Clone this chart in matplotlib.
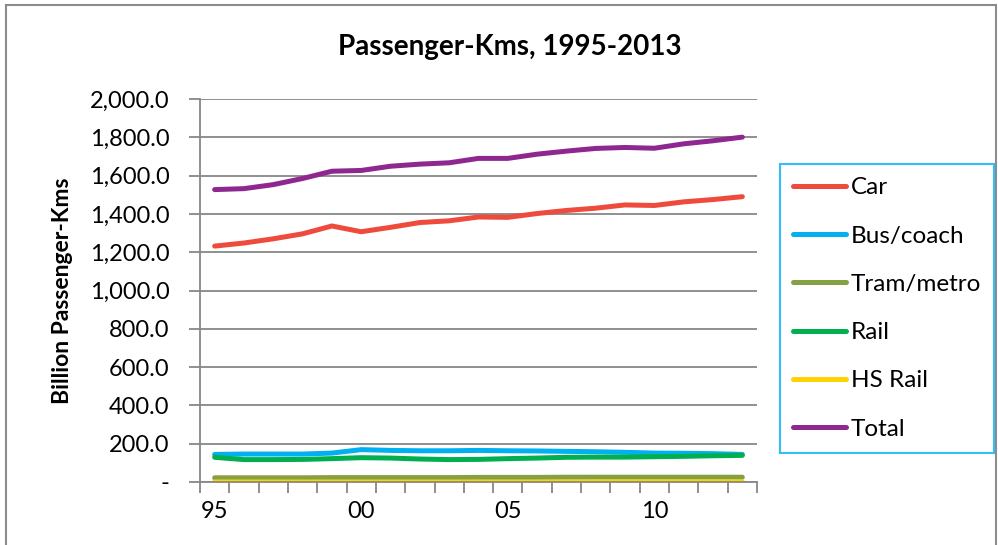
import numpy as np
import matplotlib.pyplot as plt
from matplotlib.ticker import FuncFormatter, FixedLocator
from matplotlib.patches import Rectangle

plt.rcParams['font.family'] = ['Lato', 'DejaVu Sans']

years = list(range(1995, 2014))
car = [1232, 1248, 1270, 1296, 1337, 1307, 1330, 1355, 1364, 1384,
       1382, 1402, 1418, 1430, 1447, 1444, 1463, 1475, 1490]
bus = [144, 146, 146, 146, 151, 169, 165, 163, 163, 165,
       163, 162, 160, 158, 155, 151, 150, 148, 144]
tram = [22, 22, 22, 22, 23, 23, 23, 23, 23, 24,
        24, 24, 25, 25, 25, 25, 25, 25, 25]
rail = [129, 117, 117, 118, 122, 127, 125, 120, 117, 118,
        122, 125, 129, 130, 130, 132, 134, 137, 139]
hs_rail = [0, 0, 0, 0, 0, 0, 0, 0, 0, 0,
           0, 0, 0, 1, 1, 1, 1, 1, 1]
total = [1527, 1532, 1553, 1585, 1623, 1627, 1649, 1660, 1667, 1690,
         1690, 1712, 1728, 1742, 1747, 1743, 1766, 1782, 1801]

series = [
    ("Car", car, "#EF4B3C"),
    ("Bus/coach", bus, "#00B0F0"),
    ("Tram/metro", tram, "#86A044"),
    ("Rail", rail, "#00B050"),
    ("HS Rail", hs_rail, "#FFD200"),
    ("Total", total, "#8E278F"),
]

grey = "#878787"

fig = plt.figure(figsize=(9.98, 5.45), dpi=100)
ax = fig.add_axes([0.2004, 0.1156, 0.5581, 0.7027])

x = np.arange(len(years))
for name, vals, col in series:
    ax.plot(x, vals, color=col, lw=3.6, label=name,
            solid_capstyle="round", solid_joinstyle="round")

ax.set_xlim(-0.5, len(years) - 0.5)
ax.set_ylim(0, 2000)
ax.set_yticks(np.arange(0, 2001, 200))
ax.yaxis.set_major_formatter(FuncFormatter(
    lambda v, p: "-" if v == 0 else f"{v:,.1f}"))
ax.grid(axis="y", color=grey, lw=1.3)
ax.set_axisbelow(True)

# category labels every five years, ticks between categories
lab_idx = [0, 5, 10, 15]
ax.set_xticks(lab_idx)
ax.set_xticklabels([f"{years[i] % 100:02d}" for i in lab_idx])
ax.xaxis.set_minor_locator(FixedLocator(np.arange(-0.5, len(years), 1)))
ax.tick_params(axis="x", which="major", length=0, pad=14, labelsize=17)
ax.tick_params(axis="x", which="minor", length=8, width=1.3, color=grey)
ax.tick_params(axis="y", length=8, width=1.3, color=grey, pad=14, labelsize=17)

for side in ("top", "right"):
    ax.spines[side].set_visible(False)
for side in ("left", "bottom"):
    ax.spines[side].set_color(grey)
    ax.spines[side].set_linewidth(1.3)

ax.set_ylabel("Billion Passenger-Kms", fontsize=16.5, fontweight="bold", labelpad=12)
fig.text(0.511, 0.913, "Passenger-Kms, 1995-2013", ha="center", va="center",
         fontsize=20, fontweight="bold")

leg = fig.legend(loc="upper left", bbox_to_anchor=(0.7816, 0.699),
                 bbox_transform=fig.transFigure, frameon=True, fancybox=False,
                 fontsize=17.5, handlelength=2.15, handletextpad=0.2,
                 labelspacing=1.12, borderpad=0.55, borderaxespad=0)
leg.get_frame().set_edgecolor("#00B0F0")
leg.get_frame().set_linewidth(1.5)

# chart area border
fig.patches.append(Rectangle((0.006, -0.02), 0.992, 1.01, transform=fig.transFigure,
                             fill=False, edgecolor="#8C8C8C", lw=1.5))

fig.savefig("out.png", dpi=100)
